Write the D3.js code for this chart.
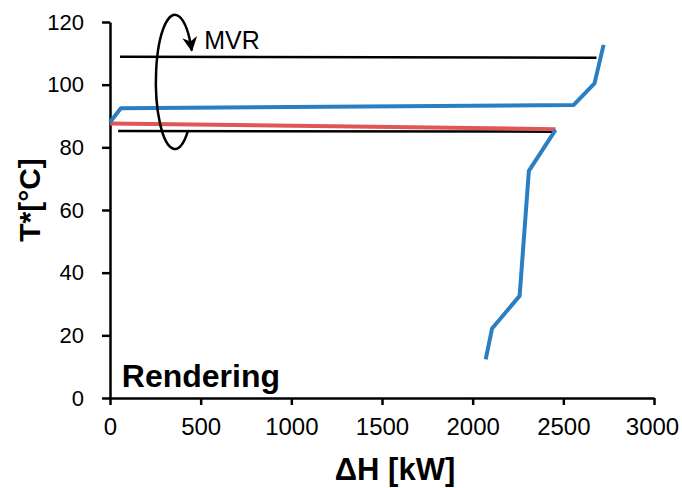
<!DOCTYPE html>
<html>
<head>
<meta charset="utf-8">
<style>
    body { margin: 0; background: #fff; }
    svg { font-family: "Liberation Sans", Arial, sans-serif; }
    .axis path, .axis line { stroke: #000; stroke-width: 2.5px; }
    .axis text { fill: #000; }
</style>
<script src="https://d3js.org/d3.v7.min.js"></script>
</head>
<body>
<script>
    // data: [dH kW, T* degC]
    const hotMain = [[0, 88.0], [60, 92.5], [2556, 93.5], [2672, 100.4], [2722, 112.7]];
    const coldMain = [[2457, 85.6], [2310, 72.5], [2259, 32.6], [2107, 22.2], [2072, 12.3]];
    const redLine = [[0, 87.6], [2457, 85.8]];
    const mvrTop = [[55, 108.9], [2683, 108.6]];
    const mvrBottom = [[45, 85.2], [2440, 85.0]];
    const xTicks = [0, 500, 1000, 1500, 2000, 2500, 3000];
    const yTicks = [0, 20, 40, 60, 80, 100, 120];

    const width = 682, height = 488;
    const x = d3.scaleLinear().domain([0, 3000]).range([110, 654]);
    const y = d3.scaleLinear().domain([0, 120]).range([398, 22]);

    const svg = d3.select('body').append('svg')
        .attr('width', width)
        .attr('height', height);

    // arrow head for the MVR loop
    svg.append('defs').append('marker')
        .attr('id', 'arrow')
        .attr('markerUnits', 'userSpaceOnUse')
        .attr('viewBox', '0 0 10 10')
        .attr('refX', 9).attr('refY', 5)
        .attr('markerWidth', 17).attr('markerHeight', 15)
        .attr('orient', 'auto')
        .append('path')
        .attr('d', 'M0,0 L10,5 L0,10 L3,5 z')
        .attr('fill', '#000');

    const line = d3.line().x(d => x(d[0])).y(d => y(d[1]));

    // axes
    const xAxis = svg.append('g').attr('class', 'axis')
        .attr('transform', `translate(0,${y(0)})`)
        .call(d3.axisBottom(x).tickValues(xTicks).tickFormat(d3.format('d'))
            .tickSize(7).tickSizeOuter(0).tickPadding(13));
    xAxis.selectAll('text').style('font-size', '24px')
        .attr('dx', d => d === 3000 ? -2 : 0);

    const yAxis = svg.append('g').attr('class', 'axis')
        .attr('transform', `translate(${x(0)},0)`)
        .call(d3.axisLeft(y).tickValues(yTicks).tickFormat(d3.format('d'))
            .tickSize(8).tickSizeOuter(0).tickPadding(18));
    yAxis.selectAll('text').style('font-size', '22px');

    // series
    svg.append('path').datum(mvrTop)
        .attr('d', line).attr('fill', 'none')
        .attr('stroke', '#000').attr('stroke-width', 2.5);
    svg.append('path').datum(mvrBottom)
        .attr('d', line).attr('fill', 'none')
        .attr('stroke', '#000').attr('stroke-width', 2.5);
    svg.append('path').datum(redLine)
        .attr('d', line).attr('fill', 'none')
        .attr('stroke', '#e05656').attr('stroke-width', 4);
    svg.append('path').datum(hotMain)
        .attr('d', line).attr('fill', 'none')
        .attr('stroke', '#2a7fc2').attr('stroke-width', 4)
        .attr('stroke-linejoin', 'round');
    svg.append('path').datum(coldMain)
        .attr('d', line).attr('fill', 'none')
        .attr('stroke', '#2a7fc2').attr('stroke-width', 4)
        .attr('stroke-linejoin', 'round');

    // MVR loop, an open ellipse with the arrow on its upper right end
    const loop = { cx: 358, cy: 100.9, rx: 105, ry: 21.4 };
    const pcx = x(loop.cx), pcy = y(loop.cy);
    const prx = x(loop.cx + loop.rx) - pcx, pry = y(loop.cy - loop.ry) - pcy;
    const a0 = 47 * Math.PI / 180, a1 = -28 * Math.PI / 180;
    const p0 = [pcx + prx * Math.cos(a0), pcy + pry * Math.sin(a0)];
    const p1 = [pcx + prx * Math.cos(a1), pcy + pry * Math.sin(a1)];
    svg.append('path')
        .attr('d', `M${p0[0]},${p0[1]} A${prx},${pry} 0 1 1 ${p1[0]},${p1[1]}`)
        .attr('fill', 'none')
        .attr('stroke', '#000').attr('stroke-width', 2.5)
        .attr('marker-end', 'url(#arrow)');

    svg.append('text')
        .attr('x', x(520)).attr('y', y(111.5))
        .style('font-size', '25px')
        .text('MVR');

    svg.append('text')
        .attr('x', x(65)).attr('y', 387)
        .style('font-size', '32px').style('font-weight', 'bold')
        .text('Rendering');

    // axis titles
    svg.append('text')
        .attr('x', 395).attr('y', 480)
        .attr('text-anchor', 'middle')
        .style('font-size', '31px').style('font-weight', 'bold')
        .text('ΔH [kW]');

    svg.append('text')
        .attr('transform', 'translate(40,200) rotate(-90)')
        .attr('text-anchor', 'middle')
        .style('font-size', '30px').style('font-weight', 'bold')
        .text('T*[°C]');
</script>
</body>
</html>
